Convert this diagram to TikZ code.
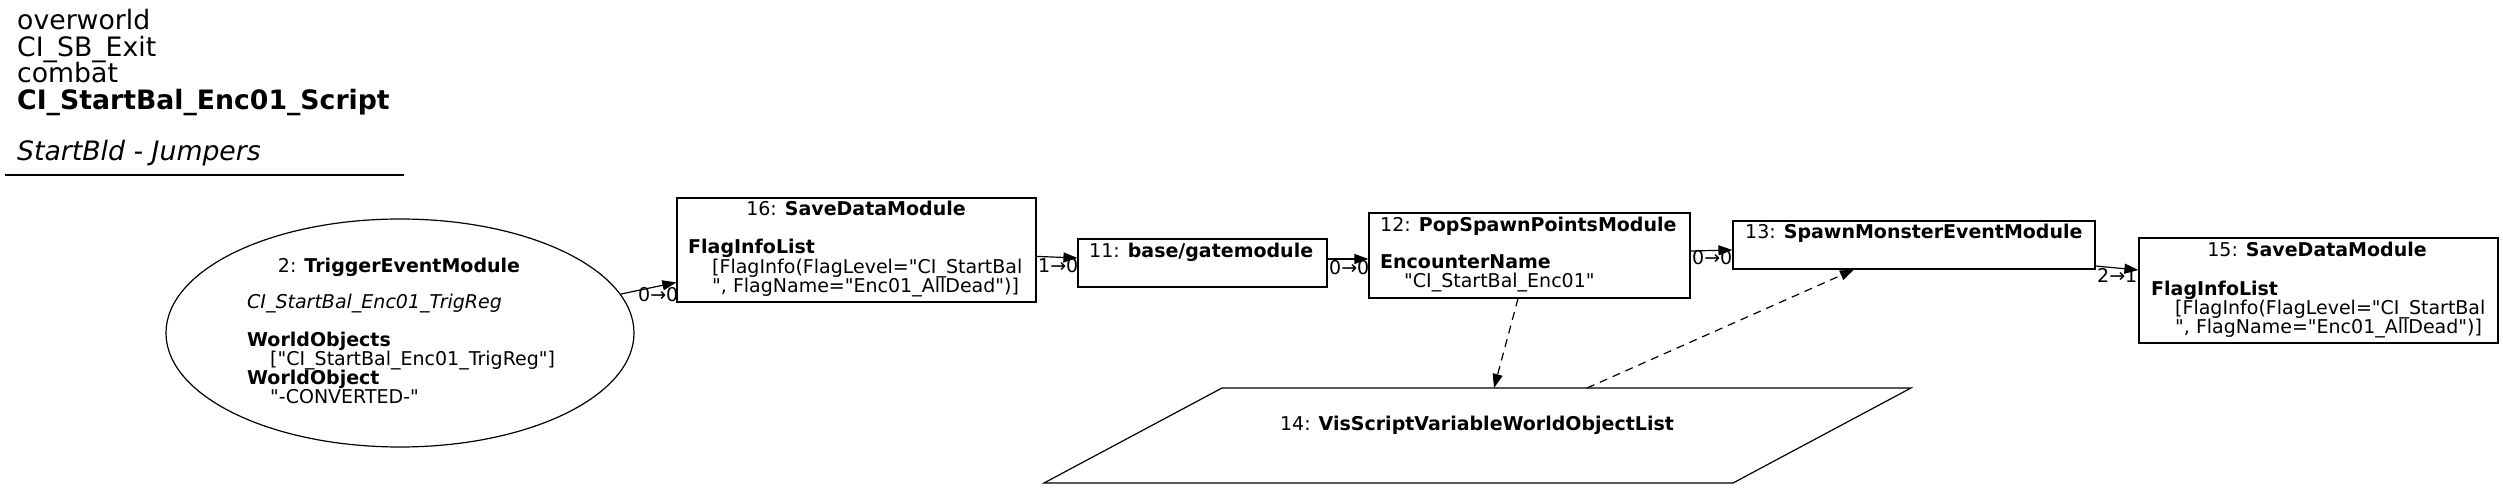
\documentclass[tikz,border=0pt]{standalone}
\usepackage{fontspec}
\setmainfont{DejaVu Sans}[Ligatures=TeXOff]
\usetikzlibrary{arrows.meta,shapes.geometric,calc}
\begin{document}
\begin{tikzpicture}[x=1pt,y=-1pt,
  box/.style={draw=black, line width=1.2pt, rectangle, inner sep=0pt},
  oval/.style={draw=black, line width=1.2pt, ellipse, inner sep=0pt},
  txt/.style={inner sep=0pt, font=\fontsize{19}{19}\selectfont},
  tl/.style={txt, anchor=base west},
  tc/.style={txt, anchor=base},
  ttl/.style={inner sep=0pt, font=\fontsize{26.7}{26.7}\selectfont, anchor=base west},
  conn/.style={line width=1.2pt, -{Triangle[length=14pt,width=10pt]}},
  dconn/.style={conn, dash pattern=on 8pt off 6pt},
  lbl/.style={txt, anchor=base west}
]
\useasboundingbox (0,0) rectangle (2503,489);

% title block
\node[ttl] (t1) at (17,30) {overworld};
\node[ttl] (t2) at (17,57) {CI\_SB\_Exit};
\node[ttl] (t3) at (17,83) {combat};
\node[ttl] (t4) at (17,110) {\textbf{CI\_StartBal\_Enc01\_Script}};
\node[ttl] (t5) at (17,161) {\textit{StartBld - Jumpers}};
\draw[line width=1.2pt] (5,175) -- (404,175);

% node 2
\node[oval, minimum width=468pt, minimum height=228pt] (n2) at (400,333) {};
\node[tc] (n2a) at (399,272) {2: \textbf{TriggerEventModule}};
\node[tl] (n2b) at (247,308) {\textit{CI\_StartBal\_Enc01\_TrigReg}};
\node[tl] (n2c) at (247,346) {\textbf{WorldObjects}};
\node[tl] (n2d) at (270,365) {["CI\_StartBal\_Enc01\_TrigReg"]};
\node[tl] (n2e) at (247,384) {\textbf{WorldObject}};
\node[tl] (n2f) at (270,403) {"-CONVERTED-"};

% node 16
\node[box, minimum width=359pt, minimum height=104pt] (n16) at (856.5,250) {};
\node[tc] (n16a) at (856,216) {16: \textbf{SaveDataModule}};
\node[tl] (n16b) at (688,254) {\textbf{FlagInfoList}};
\node[tl] (n16c) at (712,273) {[FlagInfo(FlagLevel="CI\_StartBal};
\node[tl] (n16d) at (712,292) {", FlagName="Enc01\_AllDead")]};

% node 11
\node[box, minimum width=249pt, minimum height=48pt] (n11) at (1202.5,263) {};
\node[tl] (n11a) at (1089,257) {11: \textbf{base/gatemodule}};

% node 12
\node[box, minimum width=321pt, minimum height=85pt] (n12) at (1529.5,255.5) {};
\node[tl] (n12a) at (1380,232) {12: \textbf{PopSpawnPointsModule}};
\node[tl] (n12b) at (1380,268) {\textbf{EncounterName}};
\node[tl] (n12c) at (1404,287) {"CI\_StartBal\_Enc01"};

% node 13
\node[box, minimum width=362pt, minimum height=48pt] (n13) at (1914,245) {};
\node[tl] (n13a) at (1745,239) {13: \textbf{SpawnMonsterEventModule}};

% node 15
\node[box, minimum width=359pt, minimum height=105pt] (n15) at (2318.5,290.5) {};
\node[tc] (n15a) at (2317,256) {15: \textbf{SaveDataModule}};
\node[tl] (n15b) at (2151,295) {\textbf{FlagInfoList}};
\node[tl] (n15c) at (2175,314) {[FlagInfo(FlagLevel="CI\_StartBal};
\node[tl] (n15d) at (2175,333) {", FlagName="Enc01\_AllDead")]};

% node 14 (parallelogram)
\draw[line width=1.2pt] (1222,388) -- (1911,388) -- (1733,483) -- (1044,483) -- cycle;
\node[tc] (n14) at (1477,430) {14: \textbf{VisScriptVariableWorldObjectList}};
\coordinate (p14in) at (1494,388);
\coordinate (p14out) at (1587,388);

% connectors
\draw[conn] (n2.10) -- ([yshift=-85pt]n16.north west);
\node[lbl] at (638,301) {0→0};
\draw[conn] ([yshift=-59pt]n16.north east) -- ([yshift=5pt]n11.west);
\node[lbl] at (1038,272) {1→0};
\draw[conn] ([yshift=4pt]n11.east) -- ([yshift=-3.5pt]n12.west);
\node[lbl] at (1329,274) {0→0};
\draw[conn] ([yshift=4.5pt]n12.east) -- ([yshift=-5pt]n13.west);
\node[lbl] at (1692,265) {0→0};
\draw[conn] ([yshift=-21pt]n13.east) -- ([yshift=20.5pt]n15.west);
\node[lbl] at (2097,282) {2→1};
\draw[dconn] ([xshift=-11.5pt]n12.south) -- (p14in);
\draw[dconn] (p14out) -- ([xshift=-60pt]n13.south);
\end{tikzpicture}
\end{document}
